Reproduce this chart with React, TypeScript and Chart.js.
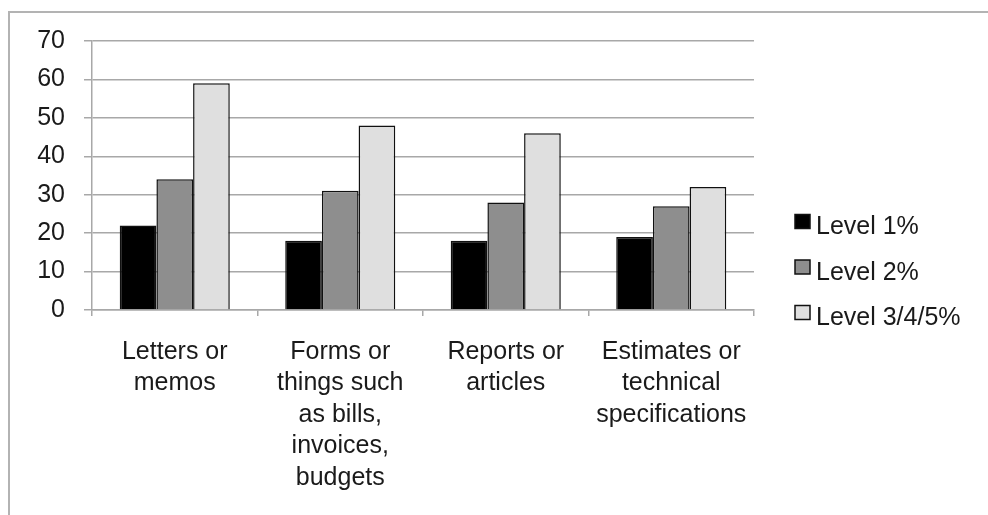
import React, { useEffect, useRef } from "react";
import { Chart, registerables } from "chart.js";

Chart.register(...registerables);

const categories: string[][] = [
  ["Letters or", "memos"],
  ["Forms or", "things such", "as bills,", "invoices,", "budgets"],
  ["Reports or", "articles"],
  ["Estimates or", "technical", "specifications"],
];
const seriesNames = ["Level 1%", "Level 2%", "Level 3/4/5%"];
const level1 = [22, 18, 18, 19];
const level2 = [34, 31, 28, 27];
const level345 = [59, 48, 46, 32];
const yMin = 0;
const yMax = 70;
const yStep = 10;

const FONT = "'Liberation Sans', Arial, sans-serif";
const FONT_SIZE = 25;
const TEXT = "#1a1a1a";
const GRID = "#a8a8a8";

const framePlugin = {
  id: "frame",
  beforeDraw(chart: any) {
    const ctx = chart.ctx;
    ctx.save();
    ctx.strokeStyle = "#b3b3b3";
    ctx.lineWidth = 2;
    ctx.beginPath();
    ctx.moveTo(9, chart.height);
    ctx.lineTo(9, 12);
    ctx.lineTo(chart.width, 12);
    ctx.stroke();
    ctx.restore();
  },
};

// Legend drawn on the canvas, right of the plot area
const legendPlugin = {
  id: "sideLegend",
  afterDraw(chart: any) {
    const ctx = chart.ctx;
    const ds = chart.data.datasets;
    const boxX = chart.chartArea.right + 41;
    const rowGap = 45.5;
    const firstTop = chart.height / 2 - 43;
    ctx.save();
    ds.forEach((d: any, i: number) => {
      const top = firstTop + i * rowGap;
      ctx.fillStyle = d.backgroundColor;
      ctx.fillRect(boxX, top, 15, 14);
      ctx.strokeStyle = d.borderColor;
      ctx.lineWidth = 1.5;
      ctx.strokeRect(boxX, top, 15, 14);
      ctx.fillStyle = TEXT;
      ctx.font = `${FONT_SIZE}px ${FONT}`;
      ctx.textAlign = "left";
      ctx.textBaseline = "alphabetic";
      ctx.fillText(d.label, boxX + 21, top + 19.5);
    });
    ctx.restore();
  },
};

export default function App() {
  const ref = useRef<HTMLCanvasElement | null>(null);
  useEffect(() => {
    if (!ref.current) return;
    Chart.defaults.font.family = FONT;
    const chart = new Chart(ref.current, {
      type: "bar",
      data: {
        labels: categories,
        datasets: [
          { label: seriesNames[0], data: level1, backgroundColor: "#000000", borderColor: "#111111", borderWidth: 1.5 },
          { label: seriesNames[1], data: level2, backgroundColor: "#8e8e8e", borderColor: "#111111", borderWidth: 1.5 },
          { label: seriesNames[2], data: level345, backgroundColor: "#dfdfdf", borderColor: "#111111", borderWidth: 1.5 },
        ],
      },
      options: {
        animation: false,
        responsive: true,
        maintainAspectRatio: false,
        layout: { padding: { top: 41, left: 0, right: 234, bottom: 0 } },
        datasets: { bar: { categoryPercentage: 0.665, barPercentage: 1.0 } },
        plugins: {
          tooltip: { enabled: false },
          legend: { display: false },
        },
        scales: {
          x: {
            ticks: {
              padding: 20,
              color: TEXT,
              font: { size: FONT_SIZE, family: FONT, lineHeight: 1.26 },
              maxRotation: 0,
              autoSkip: false,
            },
            grid: {
              display: true,
              drawOnChartArea: false,
              drawTicks: true,
              tickLength: 6,
              color: GRID,
              lineWidth: 1.5,
              offset: true,
            },
            border: { color: GRID, width: 1.5 },
            afterFit: (s: any) => {
              s.height = 205;
            },
          },
          y: {
            min: yMin,
            max: yMax,
            ticks: { stepSize: yStep, padding: 19, color: TEXT, font: { size: FONT_SIZE, family: FONT } },
            grid: { color: GRID, lineWidth: 1.5, tickLength: 8, drawTicks: true },
            border: { color: GRID, width: 1.5 },
            afterFit: (s: any) => {
              s.width = 92;
            },
          },
        },
      } as any,
      plugins: [framePlugin, legendPlugin],
    });
    return () => chart.destroy();
  }, []);

  return (
    <div style={{ position: "absolute", left: 0, top: 0, width: 988, height: 515, background: "#fff" }}>
      <canvas ref={ref} />
    </div>
  );
}
